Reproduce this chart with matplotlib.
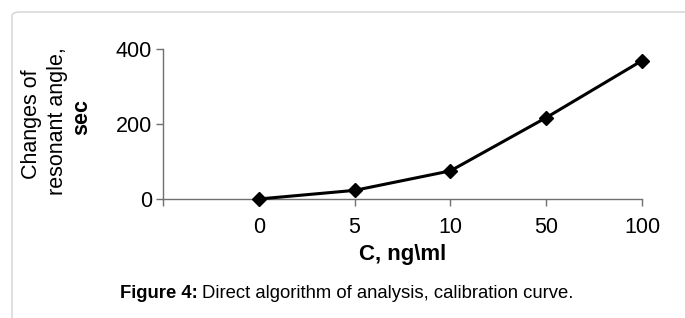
import matplotlib
matplotlib.use('Agg')
import matplotlib.pyplot as plt
from matplotlib.patches import FancyBboxPatch

plt.rcParams['font.family'] = ['Liberation Sans', 'DejaVu Sans']

# data
conc_labels = ['', '0', '5', '10', '50', '100']
shift = [0, 23, 75, 217, 369]
y_ticks = [0, 200, 400]

W, H = 685, 318
fig = plt.figure(figsize=(W / 100, H / 100), dpi=100)

# light rounded frame around the figure
frame = FancyBboxPatch((12 / W, -20 / H), 700 / W, (H - 12 + 20) / H,
                       boxstyle='round,pad=0,rounding_size=0.012',
                       transform=fig.transFigure, fill=False,
                       edgecolor='#d2d2d2', linewidth=1.0)
fig.patches.append(frame)

ax = fig.add_axes([163 / W, (H - 199) / H, (642 - 163) / W, 150 / H])

xpos = list(range(1, len(shift) + 1))
ax.plot(xpos, shift, color='black', linewidth=2.2, marker='D',
        markersize=7, clip_on=False, zorder=3)

ax.set_xlim(0, len(conc_labels) - 1)
ax.set_ylim(0, 400)
ax.set_xticks(range(len(conc_labels)))
ax.set_xticklabels(conc_labels)
ax.set_yticks(y_ticks)

for s in ['top', 'right']:
    ax.spines[s].set_visible(False)
for s in ['left', 'bottom']:
    ax.spines[s].set_color('#707070')
    ax.spines[s].set_linewidth(1.0)

ax.tick_params(axis='both', direction='out', length=5, width=1,
               color='#707070', labelsize=15.5, labelcolor='black')
ax.tick_params(axis='x', pad=8)
ax.tick_params(axis='y', pad=3)

ax.set_xlabel('C, ng\\ml', fontsize=16, fontweight='bold', labelpad=4)

# three-line y label, last line bold
fig.text(32 / W, 1 - 124 / H, 'Changes of', rotation=90, ha='center',
         va='center', fontsize=15.5)
fig.text(58 / W, 1 - 121 / H, 'resonant angle,', rotation=90, ha='center',
         va='center', fontsize=15.5)
fig.text(82 / W, 1 - 117 / H, 'sec', rotation=90, ha='center',
         va='center', fontsize=15.5, fontweight='bold')

# caption
cap_y = 1 - 293 / H
t1 = fig.text(120 / W, cap_y, 'Figure 4:', ha='left', va='center',
              fontsize=13.3, fontweight='bold')
fig.canvas.draw()
bb = t1.get_window_extent()
fig.text((bb.x1 + 4) / W, cap_y,
         'Direct algorithm of analysis, calibration curve.',
         ha='left', va='center', fontsize=13.3)

fig.savefig('out.png', dpi=100)
